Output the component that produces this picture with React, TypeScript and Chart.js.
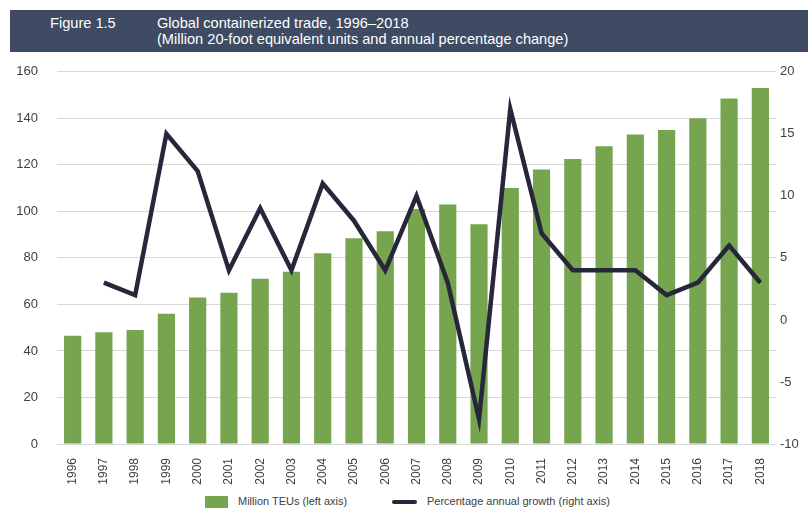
import React, { useEffect, useRef } from "react";
import { Chart, registerables } from "chart.js";

Chart.register(...registerables);

const years = ["1996","1997","1998","1999","2000","2001","2002","2003","2004","2005","2006","2007","2008","2009","2010","2011","2012","2013","2014","2015","2016","2017","2018"];
const teus = [46.5, 48, 49, 56, 63, 65, 71, 74, 82, 88.5, 91.5, 101, 103, 94.5, 110, 118, 122.5, 128, 133, 135, 140, 148.5, 153];
const growth = [null, 3, 2, 15, 12, 4, 9, 4, 11, 8, 4, 10, 3, -8, 17, 7, 4, 4, 4, 2, 3, 6, 3];
const leftTicks = { min: 0, max: 160, step: 20 };
const rightTicks = { min: -10, max: 20, step: 5 };

const GREEN = "#77a44f";
const NAVY = "#26273a";
const FONT = "'Liberation Sans', Arial, sans-serif";

export default function App() {
  const ref = useRef<HTMLCanvasElement | null>(null);
  useEffect(() => {
    if (!ref.current) return;
    const chart = new Chart(ref.current, {
      data: {
        labels: years,
        datasets: [
          {
            type: "line",
            label: "Percentage annual growth (right axis)",
            data: growth as any,
            yAxisID: "y1",
            borderColor: NAVY,
            backgroundColor: NAVY,
            borderWidth: 4.5,
            pointRadius: 0,
            tension: 0,
            order: 0,
          },
          {
            type: "bar",
            label: "Million TEUs (left axis)",
            data: teus,
            yAxisID: "y",
            backgroundColor: GREEN,
            categoryPercentage: 1,
            barPercentage: 0.55,
            order: 1,
          },
        ],
      },
      options: {
        responsive: false,
        animation: false,
        layout: { padding: { top: 5, left: 0, right: 0, bottom: 0 } },
        plugins: { legend: { display: false }, tooltip: { enabled: false } },
        scales: {
          x: {
            grid: { display: false },
            border: { display: true, color: "#d9d9d9" },
            ticks: {
              minRotation: 90,
              maxRotation: 90,
              padding: 6,
              color: "#404040",
              font: { family: FONT, size: 12 },
            },
            afterFit: (s: any) => { s.height = 41; },
          },
          y: {
            position: "left",
            min: leftTicks.min,
            max: leftTicks.max,
            ticks: {
              stepSize: leftTicks.step,
              padding: 19,
              color: "#404040",
              font: { family: FONT, size: 13 },
            },
            grid: { color: "#d9d9d9", drawTicks: false, lineWidth: 1 },
            border: { display: false },
            afterFit: (s: any) => { s.width = 57; },
          },
          y1: {
            position: "right",
            min: rightTicks.min,
            max: rightTicks.max,
            ticks: {
              stepSize: rightTicks.step,
              padding: 4,
              color: "#404040",
              font: { family: FONT, size: 13 },
            },
            grid: { display: false, drawTicks: false },
            border: { display: false },
            afterFit: (s: any) => { s.width = 32; },
          },
        },
      },
    } as any);
    return () => chart.destroy();
  }, []);

  const txt: React.CSSProperties = { position: "absolute", whiteSpace: "nowrap" };

  return (
    <div style={{ position: "absolute", left: 0, top: 0, width: 808, height: 511, background: "#fff", fontFamily: FONT, overflow: "hidden" }}>
      <div style={{ position: "absolute", left: 10, top: 10, width: 798, height: 42, background: "#3e4b63", color: "#fff", fontSize: 14.6, lineHeight: "16px" }}>
        <div style={{ ...txt, left: 40, top: 5 }}>Figure 1.5</div>
        <div style={{ ...txt, left: 147, top: 5 }}>
          Global containerized trade, 1996–2018<br />(Million 20-foot equivalent units and annual percentage change)
        </div>
      </div>
      <canvas ref={ref} width={808} height={440} style={{ position: "absolute", left: 0, top: 45, width: 808, height: 440 }} />
      <div style={{ position: "absolute", left: 0, top: 494, width: 808, height: 16, fontSize: 11, color: "#404040", whiteSpace: "nowrap" }}>
        <div style={{ position: "absolute", left: 205, top: 2, width: 23, height: 12, background: GREEN }} />
        <div style={{ position: "absolute", left: 238, top: 1 }}>Million TEUs (left axis)</div>
        <div style={{ position: "absolute", left: 392, top: 6, width: 25, height: 4, borderRadius: 2, background: NAVY }} />
        <div style={{ position: "absolute", left: 427, top: 1 }}>Percentage annual growth (right axis)</div>
      </div>
    </div>
  );
}
